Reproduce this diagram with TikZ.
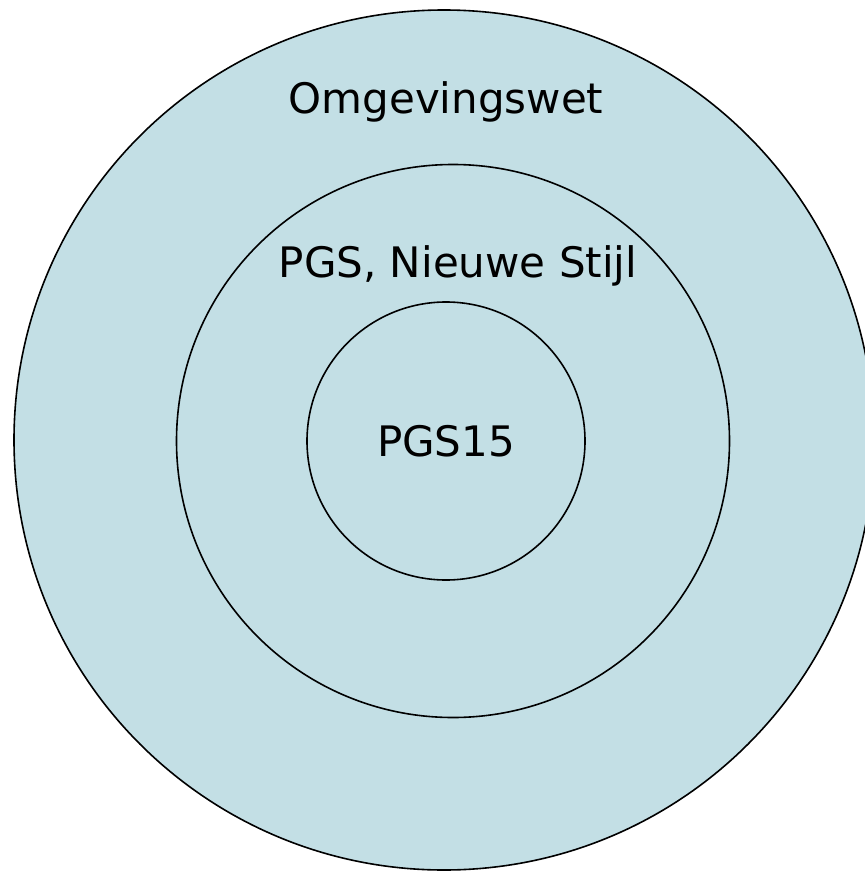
\documentclass[tikz,border=0pt]{standalone}
\usepackage{fontspec}
\setmainfont{DejaVu Sans}
\usetikzlibrary{positioning}
\definecolor{ringblue}{RGB}{195,223,229}

\begin{document}
\begin{tikzpicture}[
    x=1pt, y=-1pt,
    ring/.style={circle, draw=black, fill=ringblue, line width=1.6pt, inner sep=0pt},
    label/.style={font=\fontsize{42}{50}\selectfont, inner sep=0pt}
]

\useasboundingbox (0,0) rectangle (864,872);

\node[ring, minimum size=860pt] (omgeving) at (444,440) {};
\node[ring, minimum size=553pt] (pgsnieuw) at (453,441) {};
\node[ring, minimum size=278pt] (pgsvijftien) at (446,441) {};

\node[label] (omgevingtxt) at (446,102) {Omgevingswet};
\node[label] (pgsnieuwtxt) at (458,266) {PGS, Nieuwe Stijl};
\node[label] (pgsvijftientxt) at (pgsvijftien) {PGS15};

\end{tikzpicture}
\end{document}
